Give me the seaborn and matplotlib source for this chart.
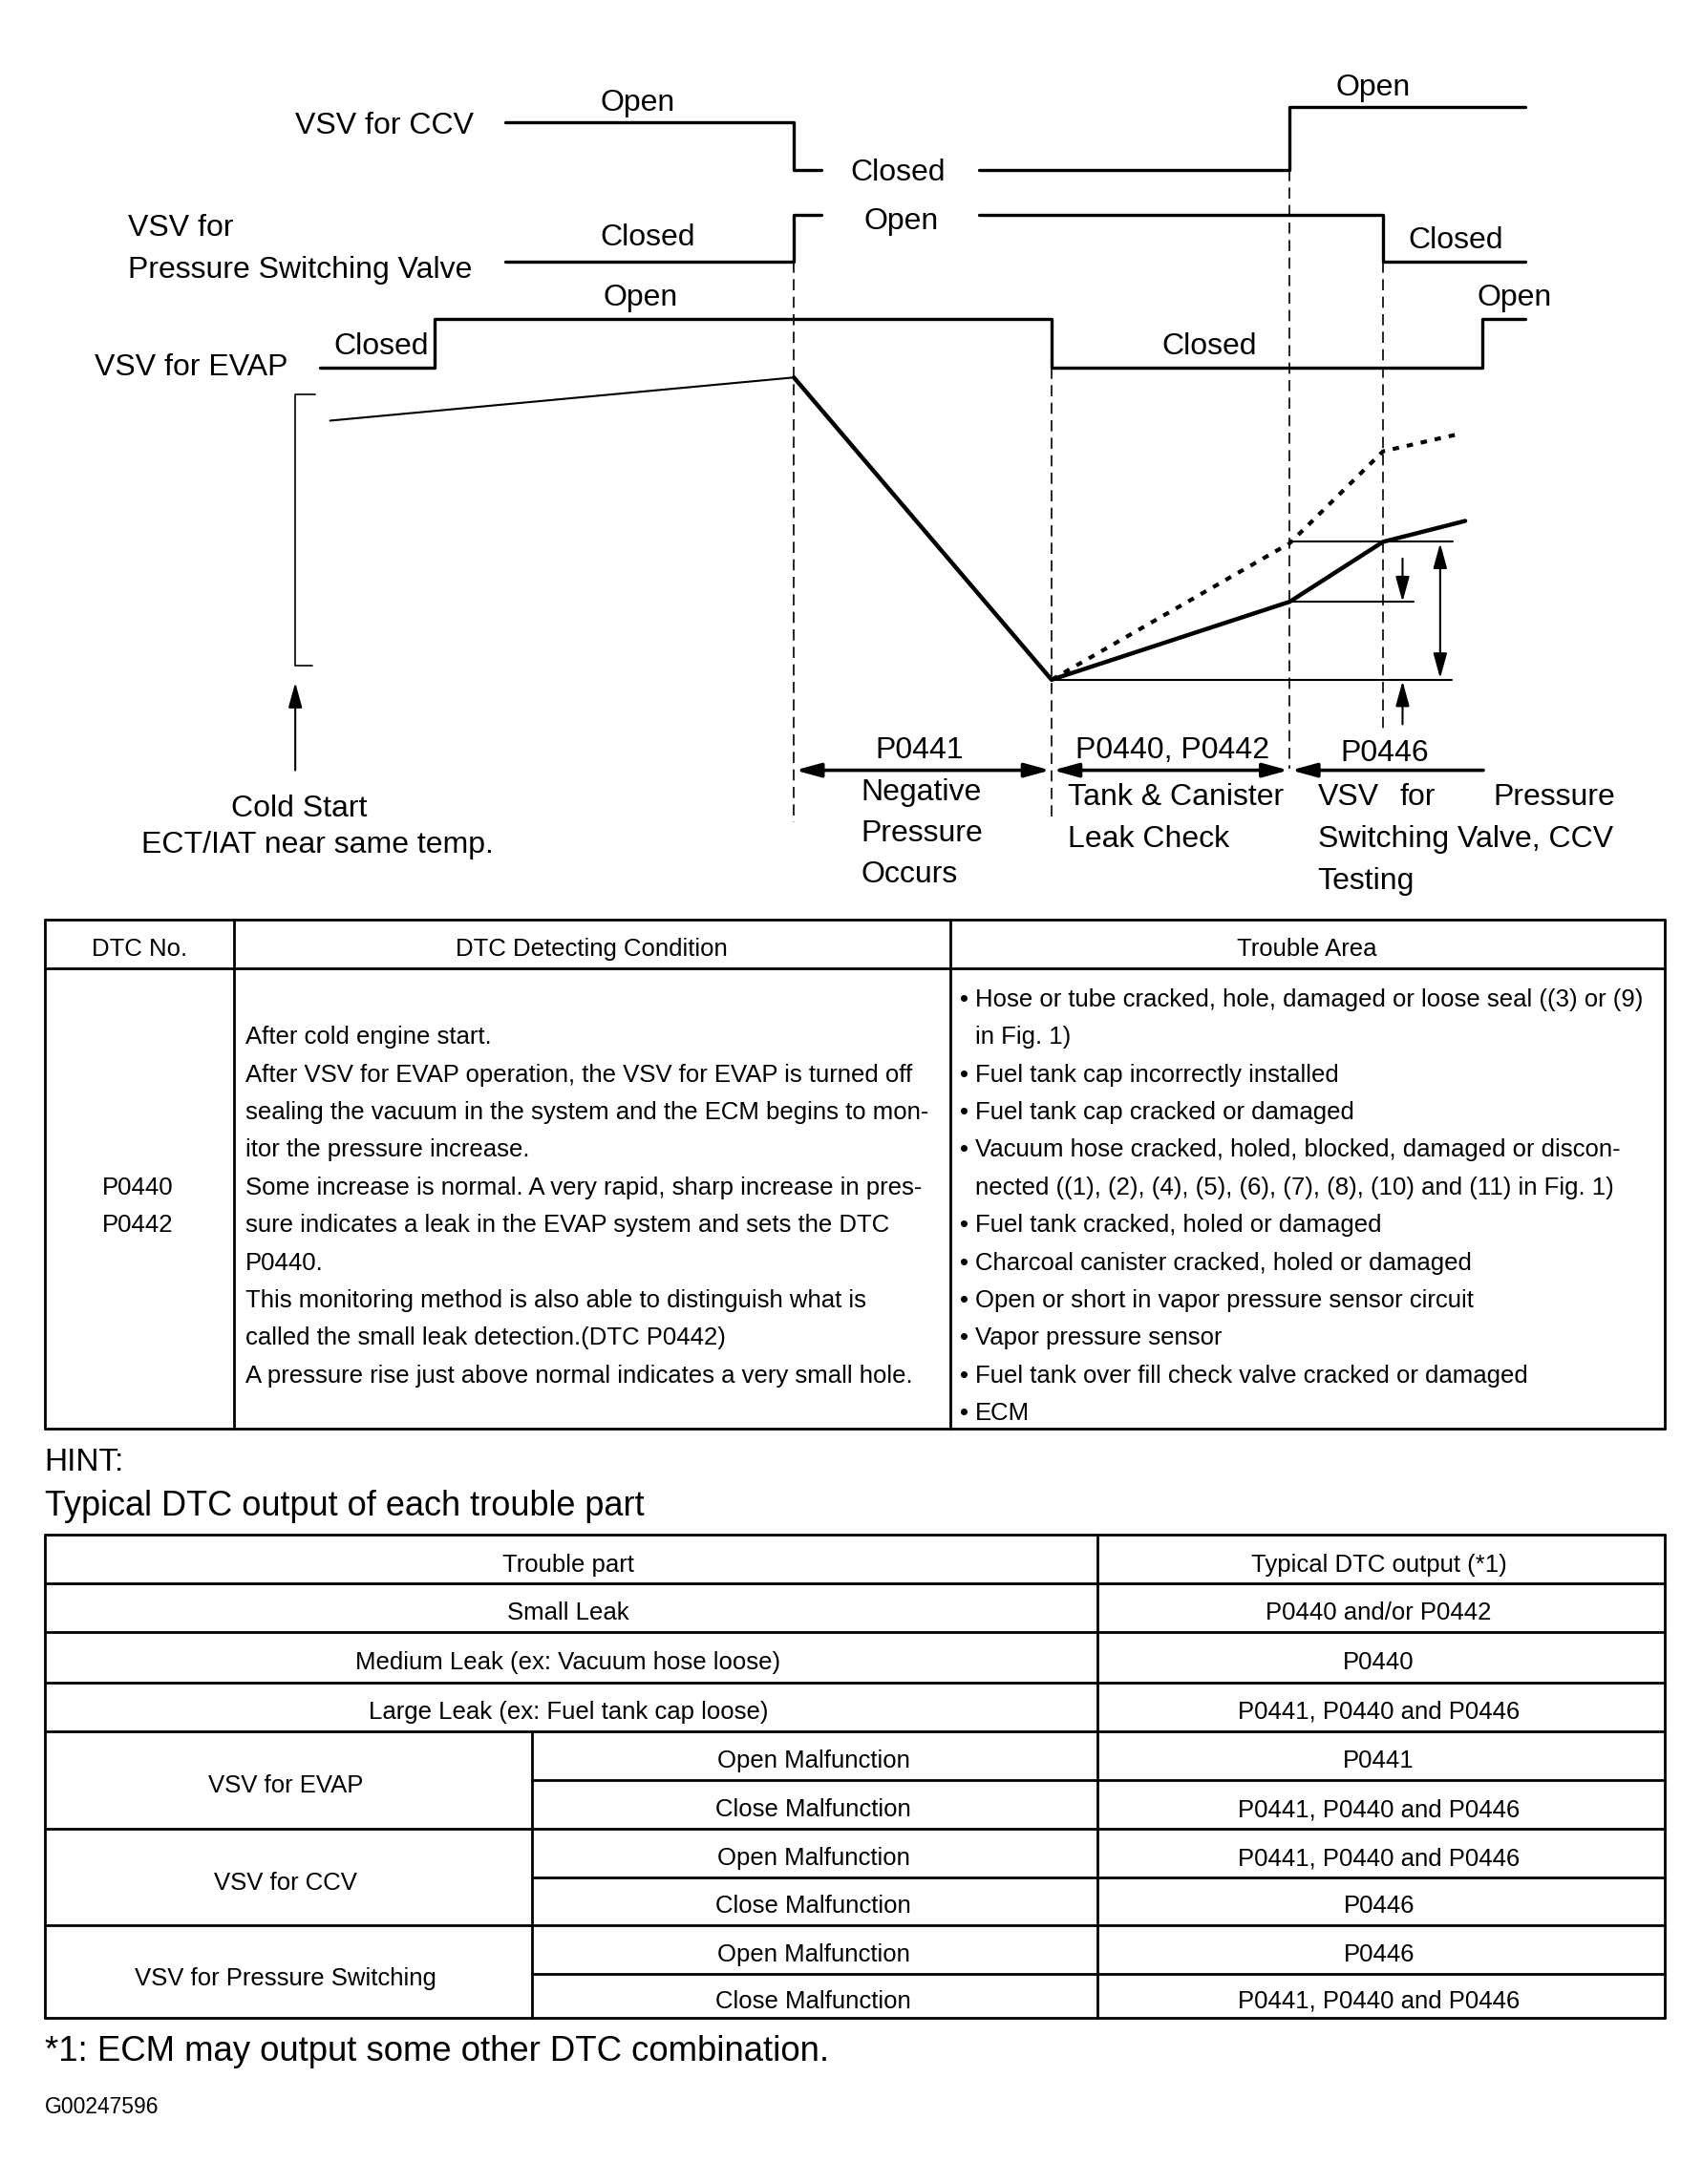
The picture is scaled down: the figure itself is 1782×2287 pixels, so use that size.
import numpy as np
import pandas as pd
import matplotlib
matplotlib.use('Agg')
import matplotlib.pyplot as plt
import seaborn as sns

sns.set_theme(style='white')
plt.rcParams['font.family'] = ['Liberation Sans', 'DejaVu Sans']

# --- valve timing (time in drawing units, state 1 = Open / 0 = Closed) ---
ccv_t = [363, 570, 590, 703, 926, 1095]
ccv_state = [1, 0, 0, 0, 1, 1]
ccv_seg = [0, 0, 0, 1, 1, 1]
psv_t = [363, 570, 590, 703, 993, 1095]
psv_state = [0, 1, 1, 1, 0, 0]
psv_seg = [0, 0, 0, 1, 1, 1]
evap_t = [230, 312, 755, 1064, 1095]
evap_state = [0, 1, 0, 1, 1]
evap_seg = [0, 0, 0, 0, 0]

# events (dashed markers)
event_t = [570, 755, 926, 993]
event_top = [188, 264, 122, 188]
event_bot = [590, 590, 552, 527]

# tank pressure, relative to the lowest point
warm_t = [237, 570]
warm_p = [186, 217]
normal_t = [570, 755, 926, 993, 1052]
normal_p = [217, 0, 56, 99, 114]
leak_t = [755, 926, 993, 1050]
leak_p = [0, 98, 164, 177]

# tables
t1_header = ['DTC No.', 'DTC Detecting Condition', 'Trouble Area']
t1_dtc = ['P0440', 'P0442']
t1_condition = [
    'After cold engine start.',
    'After VSV for EVAP operation, the VSV for EVAP is turned off',
    'sealing the vacuum in the system and the ECM begins to mon-',
    'itor the pressure increase.',
    'Some increase is normal. A very rapid, sharp increase in pres-',
    'sure indicates a leak in the EVAP system and sets the DTC',
    'P0440.',
    'This monitoring method is also able to distinguish what is',
    'called the small leak detection.(DTC P0442)',
    'A pressure rise just above normal indicates a very small hole.',
]
# (text, starts with a bullet)
t1_area = [
    ('Hose or tube cracked, hole, damaged or loose seal ((3) or (9)', True),
    ('in Fig. 1)', False),
    ('Fuel tank cap incorrectly installed', True),
    ('Fuel tank cap cracked or damaged', True),
    ('Vacuum hose cracked, holed, blocked, damaged or discon-', True),
    ('nected ((1), (2), (4), (5), (6), (7), (8), (10) and (11) in Fig. 1)', False),
    ('Fuel tank cracked, holed or damaged', True),
    ('Charcoal canister cracked, holed or damaged', True),
    ('Open or short in vapor pressure sensor circuit', True),
    ('Vapor pressure sensor', True),
    ('Fuel tank over fill check valve cracked or damaged', True),
    ('ECM', True),
]
t2_header = ['Trouble part', 'Typical DTC output (*1)']
t2_single = ['Small Leak', 'Medium Leak (ex: Vacuum hose loose)', 'Large Leak (ex: Fuel tank cap loose)']
t2_single_out = ['P0440 and/or P0442', 'P0440', 'P0441, P0440 and P0446']
t2_group = ['VSV for EVAP', 'VSV for CCV', 'VSV for Pressure Switching']
t2_mode = ['Open Malfunction', 'Close Malfunction']
t2_group_out = [['P0441', 'P0441, P0440 and P0446'],
                ['P0441, P0440 and P0446', 'P0446'],
                ['P0446', 'P0441, P0440 and P0446']]

# --- figure in drawing units (1222 x 1568) ---
fig = plt.figure(figsize=(17.82, 22.87), dpi=100)
ax = fig.add_axes([0, 0, 1, 1])
W, H = 1222, 1568

FS = 23
TFS = 18.5


def lab(x, y, s, ha='center', fs=FS, **kw):
    ax.text(x, y + 1.8, s, ha=ha, va='center', fontsize=fs, color='black', **kw)


def step_signal(t, state, seg, closed_y, open_y):
    df = pd.DataFrame({'t': t, 'state': state, 'seg': seg})
    df['y'] = [closed_y - s * (closed_y - open_y[g]) for s, g in zip(df.state, df.seg)]
    sns.lineplot(data=df, x='t', y='y', units='seg', estimator=None, sort=False,
                 drawstyle='steps-post', color='black', lw=2.4, ax=ax)


step_signal(ccv_t, ccv_state, ccv_seg, 122, {0: 88, 1: 77})
step_signal(psv_t, psv_state, psv_seg, 188, {0: 154, 1: 154})
step_signal(evap_t, evap_state, evap_seg, 264, {0: 229})

ax.vlines(event_t, event_top, event_bot, colors='black', lw=1.2, linestyles=(0, (7, 4)))

# pressure curves
BASE = 488
sns.lineplot(x=warm_t, y=[BASE - p for p in warm_p], sort=False, estimator=None,
             color='black', lw=1.5, ax=ax)
sns.lineplot(x=normal_t, y=[BASE - p for p in normal_p], sort=False, estimator=None,
             color='black', lw=3.2, ax=ax)
sns.lineplot(x=leak_t, y=[BASE - p for p in leak_p], sort=False, estimator=None,
             color='black', lw=3.0, linestyle=(0, (1.6, 2.0)), ax=ax)

# reference levels
ax.plot([926, 1043], [BASE - normal_p[3]] * 2, color='black', lw=1.5)
ax.plot([926, 1015], [BASE - normal_p[2]] * 2, color='black', lw=1.5)
ax.plot([755, 1042], [BASE, BASE], color='black', lw=1.5)

# bracket
ax.plot([226, 212, 212, 224], [283, 283, 478, 478], color='black', lw=1.2)


def arrow(x0, y0, x1, y1, style='-|>', lw=2.0, hl=0.8, hw=0.22):
    ax.annotate('', xy=(x1, y1), xytext=(x0, y0),
                arrowprops=dict(arrowstyle=f'{style},head_length={hl},head_width={hw}',
                                lw=lw, color='black', shrinkA=0, shrinkB=0,
                                mutation_scale=20))


arrow(1007, 401, 1007, 432, lw=1.5)
arrow(1034, 390, 1034, 487, style='<|-|>', lw=1.5)
arrow(1007, 520, 1007, 489, lw=1.5)
arrow(212, 553, 212, 490, lw=1.5)
arrow(571, 553, 754, 553, style='<|-|>', lw=2.6)
arrow(756, 553, 925, 553, style='<|-|>', lw=2.6)
arrow(1065, 553, 927, 553, lw=2.6)

# diagram labels
lab(340, 89, 'VSV for CCV', ha='right')
lab(458, 72, 'Open')
lab(645, 122, 'Closed')
lab(986, 61, 'Open')
lab(92, 162, 'VSV for', ha='left')
lab(92, 192, 'Pressure Switching Valve', ha='left')
lab(465, 169, 'Closed')
lab(647, 157, 'Open')
lab(1045, 171, 'Closed')
lab(460, 212, 'Open')
lab(1087, 212, 'Open')
lab(68, 262, 'VSV for EVAP', ha='left')
lab(274, 247, 'Closed')
lab(868, 247, 'Closed')

lab(215, 579, 'Cold Start')
lab(228, 605, 'ECT/IAT near same temp.')
lab(660, 537, 'P0441')
for i, s in enumerate(['Negative', 'Pressure', 'Occurs']):
    lab(618, 567 + 29.5 * i, s, ha='left')
lab(842, 537, 'P0440, P0442')
lab(767, 571, 'Tank & Canister', ha='left')
lab(767, 601, 'Leak Check', ha='left')
lab(994, 539, 'P0446')
lab(946, 571, 'VSV', ha='left')
lab(1018, 571, 'for')
lab(1160, 571, 'Pressure', ha='right')
lab(946, 601, 'Switching Valve, CCV', ha='left')
lab(946, 631, 'Testing', ha='left')

# --- table 1 ---
TLW = 2.0
x0, x1, x2, x3 = 32, 168, 682, 1195
y0, yh, y1 = 660, 695, 1026
for y in [y0, yh, y1]:
    ax.plot([x0, x3], [y, y], color='black', lw=TLW)
for x in [x0, x1, x2, x3]:
    ax.plot([x, x], [y0, y1], color='black', lw=TLW)
lab((x0 + x1) / 2, 680, t1_header[0], fs=TFS)
lab((x1 + x2) / 2, 680, t1_header[1], fs=TFS)
lab((x2 + x3) / 2, 680, t1_header[2], fs=TFS)
for i, s in enumerate(t1_dtc):
    lab(99, 851 + 27 * i, s, fs=TFS)
for i, s in enumerate(t1_condition):
    lab(176, 743 + 27 * i, s, ha='left', fs=TFS)
for i, (s, bullet) in enumerate(t1_area):
    if bullet:
        lab(689, 716 + 27 * i, '\u2022', ha='left', fs=TFS)
    lab(700, 716 + 27 * i, s, ha='left', fs=TFS)

lab(32, 1048, 'HINT:', ha='left', fs=24)
lab(32, 1080, 'Typical DTC output of each trouble part', ha='left', fs=26)

# --- table 2 ---
rows = [1102, 1137, 1172, 1208, 1243, 1278, 1313, 1348, 1382, 1417, 1449]
cx0, cxs, cxm, cx3 = 32, 382, 788, 1195
for i, y in enumerate(rows):
    left = cxs if i in (5, 7, 9) else cx0
    ax.plot([left, cx3], [y, y], color='black', lw=TLW)
for x in [cx0, cxm, cx3]:
    ax.plot([x, x], [rows[0], rows[-1]], color='black', lw=TLW)
ax.plot([cxs, cxs], [rows[4], rows[-1]], color='black', lw=TLW)

lab(408, 1122, t2_header[0], fs=TFS)
lab(990, 1122, t2_header[1], fs=TFS)
for i, (s, o) in enumerate(zip(t2_single, t2_single_out)):
    yc = (rows[i + 1] + rows[i + 2]) / 2 + 2
    lab(408, yc, s, fs=TFS)
    lab(990, yc, o, fs=TFS)
for g, (name, outs) in enumerate(zip(t2_group, t2_group_out)):
    r = 4 + 2 * g
    lab(205, rows[r + 1] + 2, name, fs=TFS)
    for k in range(2):
        yc = (rows[r + k] + rows[r + k + 1]) / 2 + 2
        lab(584, yc, t2_mode[k], fs=TFS)
        lab(990, yc, outs[k], fs=TFS)

lab(32, 1471, '*1: ECM may output some other DTC combination.', ha='left', fs=26.3)
lab(32, 1511, 'G00247596', ha='left', fs=16.5)

ax.set_xlim(0, W)
ax.set_ylim(H, 0)
ax.axis('off')
fig.savefig('out.png', dpi=100, facecolor='white')
